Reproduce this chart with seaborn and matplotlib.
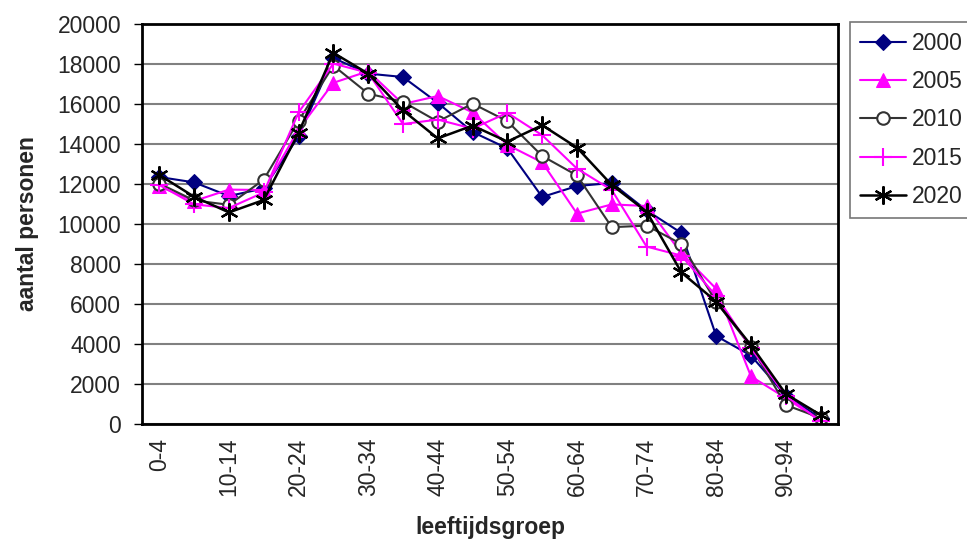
import matplotlib
matplotlib.use("Agg")
import matplotlib.pyplot as plt
import seaborn as sns
import numpy as np

# Age groups (5-year bins)
age_groups = ['0-4', '5-9', '10-14', '15-19', '20-24', '25-29', '30-34', '35-39',
              '40-44', '45-49', '50-54', '55-59', '60-64', '65-69', '70-74',
              '75-79', '80-84', '85-89', '90-94', '95-99']

# Number of persons per age group
y2000 = [12350, 12080, 11400, 11780, 14380, 18300, 17520, 17350, 16060, 14600,
         13780, 11350, 11900, 12050, 10680, 9550, 4400, 3420, 1420, 300]
y2005 = [11880, 11150, 11720, 11700, 14720, 17060, 17640, 16000, 16400, 15580,
         13960, 13080, 10520, 10980, 10900, 8530, 6760, 2380, 1300, 150]
y2010 = [12020, 11180, 10960, 12220, 15160, 17920, 16520, 16110, 15120, 16020,
         15140, 13400, 12430, 9840, 9920, 9000, 6100, 3860, 950, 300]
y2015 = [11950, 10980, 10800, 11580, 15580, 18020, 17560, 15000, 15220, 14770,
         15560, 14440, 12770, 11700, 8870, 8420, 6400, 3800, 1400, 150]
y2020 = [12450, 11360, 10580, 11200, 14560, 18560, 17520, 15680, 14280, 14920,
         14120, 14940, 13820, 11950, 10620, 7580, 6120, 3940, 1500, 450]

years = ['2000', '2005', '2010', '2015', '2020']
series = [y2000, y2005, y2010, y2015, y2020]

styles = {
    '2000': dict(color='#000080', marker='D', markersize=8.5, mfc='#000080', mec='#000080', lw=1.5),
    '2005': dict(color='#FF00FF', marker='^', markersize=9.5, mfc='#FF00FF', mec='#FF00FF', lw=1.5),
    '2010': dict(color='#333333', marker='o', markersize=9, mfc='white', mec='#333333', mew=1.5, lw=1.5),
    '2015': dict(color='#FF00FF', marker='+', markersize=13, mfc='#FF00FF', mec='#FF00FF', mew=1.5, lw=1.5),
    '2020': dict(color='black', marker=(6, 2, 0), markersize=13, mfc='black', mec='black', mew=1.6, lw=1.8),
}

FS = 16.5

sns.set_style('white')
plt.rcParams['font.family'] = ['Liberation Sans', 'DejaVu Sans']

fig = plt.figure(figsize=(9.67, 5.47), dpi=100)
ax = fig.add_axes([0.1468, 0.2249, 0.7198, 0.7312])

for yr, vals in zip(years, series):
    sns.lineplot(x=age_groups, y=vals, ax=ax, label=yr, sort=False, **styles[yr])

ax.set_xlim(-0.5, len(age_groups) - 0.5)
ax.set_ylim(0, 20000)
ax.set_yticks(np.arange(0, 20001, 2000))
ax.yaxis.grid(True, color='#808080', lw=1.5)
ax.set_axisbelow(True)

# category labels on every other group, tick marks between groups
ax.set_xticks(range(0, len(age_groups), 2))
ax.set_xticklabels(age_groups[::2], rotation=90)
ax.set_xticks(np.arange(-0.5, len(age_groups), 1), minor=True)
ax.tick_params(axis='x', which='major', length=0, pad=10, labelsize=FS)
ax.tick_params(axis='x', which='minor', length=7, width=1, direction='inout', color='black')
ax.tick_params(axis='y', which='major', length=6, width=1, direction='out', color='black',
               labelsize=FS, left=True, pad=9)

for s in ax.spines.values():
    s.set_color('black')
    s.set_linewidth(2)

ax.set_ylabel('aantal personen', fontsize=FS, fontweight='bold', labelpad=13)
ax.set_xlabel('leeftijdsgroep', fontsize=FS, fontweight='bold', labelpad=14)

leg = ax.legend(loc='upper left', bbox_to_anchor=(0.879, 0.96), bbox_transform=fig.transFigure,
                fontsize=FS, frameon=True, fancybox=False, handlelength=2.0,
                labelspacing=0.66, borderpad=0.45, handletextpad=0.25, borderaxespad=0)
leg.get_frame().set_edgecolor('#555555')
leg.get_frame().set_linewidth(1.2)

fig.savefig('out.png', dpi=100)
